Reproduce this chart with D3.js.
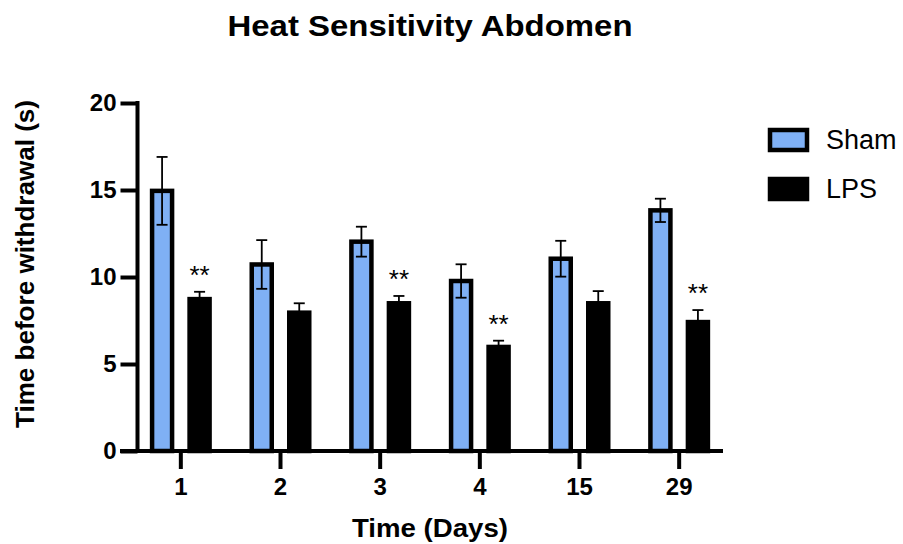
<!DOCTYPE html>
<html>
<head>
<meta charset="utf-8">
<script src="https://cdn.jsdelivr.net/npm/d3@7"></script>
<style>
  html, body { margin: 0; padding: 0; background: #fff; }
  svg { display: block; font-family: "Liberation Sans", Arial, Helvetica, sans-serif; }
</style>
</head>
<body>
<svg id="chart" width="903" height="544"></svg>
<script>
// ---- data ----
const categories = ["1", "2", "3", "4", "15", "29"];
const groups = ["Sham", "LPS"];
const shamMean = [14.95, 10.72, 12.03, 9.77, 11.05, 13.83];
const shamSem  = [1.95, 1.40, 0.86, 0.96, 1.03, 0.67];
const lpsMean  = [8.73, 7.95, 8.49, 5.98, 8.49, 7.41];
const lpsSem   = [0.42, 0.54, 0.42, 0.36, 0.70, 0.69];
const lpsSig   = ["**", "", "**", "**", "", "**"];
const yTicks   = [0, 5, 10, 15, 20];
const title = "Heat Sensitivity Abdomen";
const xTitle = "Time (Days)";
const yTitle = "Time before withdrawal (s)";

const colors = { Sham: "#7fb0f5", LPS: "#000000" };

const svg = d3.select("#chart");

const y = d3.scaleLinear().domain([0, 20]).range([451, 103]);
const x0 = d3.scaleBand().domain(categories).range([131, 729]).paddingInner(0).paddingOuter(0);
const x1 = d3.scaleBand().domain(groups).range([0, x0.bandwidth()]).paddingInner(0.4667).paddingOuter(0.562);

const rows = categories.map((c, i) => ({
  cat: c,
  vals: [
    { g: "Sham", mean: shamMean[i], sem: shamSem[i], sig: "" },
    { g: "LPS", mean: lpsMean[i], sem: lpsSem[i], sig: lpsSig[i] }
  ]
}));

// title
svg.append("text")
  .attr("x", 430).attr("y", 36)
  .attr("text-anchor", "middle")
  .attr("font-size", 30).attr("font-weight", "bold")
  .attr("textLength", 405).attr("lengthAdjust", "spacingAndGlyphs")
  .text(title);

// bars
const gGroups = svg.append("g").selectAll("g").data(rows).join("g")
  .attr("transform", d => `translate(${x0(d.cat)},0)`);

gGroups.selectAll("rect").data(d => d.vals).join("rect")
  .attr("x", d => x1(d.g))
  .attr("y", d => y(d.mean))
  .attr("width", x1.bandwidth())
  .attr("height", d => y(0) - y(d.mean))
  .attr("fill", d => colors[d.g])
  .attr("stroke", "#000")
  .attr("stroke-width", 4.5);

// error bars
const capW = 11;
const eb = gGroups.selectAll("g.eb").data(d => d.vals).join("g").attr("class", "eb")
  .attr("stroke", "#000").attr("stroke-width", 1.8);
eb.append("line")
  .attr("x1", d => x1(d.g) + x1.bandwidth() / 2)
  .attr("x2", d => x1(d.g) + x1.bandwidth() / 2)
  .attr("y1", d => y(d.mean - d.sem))
  .attr("y2", d => y(d.mean + d.sem));
eb.append("line")
  .attr("x1", d => x1(d.g) + x1.bandwidth() / 2 - capW / 2)
  .attr("x2", d => x1(d.g) + x1.bandwidth() / 2 + capW / 2)
  .attr("y1", d => y(d.mean + d.sem))
  .attr("y2", d => y(d.mean + d.sem));
eb.append("line")
  .attr("x1", d => x1(d.g) + x1.bandwidth() / 2 - capW / 2)
  .attr("x2", d => x1(d.g) + x1.bandwidth() / 2 + capW / 2)
  .attr("y1", d => y(d.mean - d.sem))
  .attr("y2", d => y(d.mean - d.sem));

// significance
gGroups.selectAll("text.sig").data(d => d.vals.filter(v => v.sig)).join("text")
  .attr("class", "sig")
  .attr("x", d => x1(d.g) + x1.bandwidth() / 2)
  .attr("y", d => y(d.mean + d.sem) - 8)
  .attr("text-anchor", "middle")
  .attr("font-size", 26)
  .text(d => d.sig);

// y axis
const yAxis = d3.axisLeft(y).tickValues(yTicks).tickSize(17).tickPadding(4);
const gy = svg.append("g").attr("transform", "translate(137.5,0)").call(yAxis);
gy.select(".domain").attr("d", `M0,${y(20) - 2}V${y(0) + 2}`).attr("stroke-width", 4).attr("stroke", "#000");
gy.selectAll(".tick line").attr("stroke-width", 4).attr("stroke", "#000");
gy.selectAll(".tick text").attr("font-size", 24).attr("font-weight", "bold")
  .attr("font-family", "'Liberation Sans', Arial, sans-serif").attr("fill", "#000");

// x axis
const xAxis = d3.axisBottom(x0).tickSize(18).tickPadding(9);
const gx = svg.append("g").attr("transform", `translate(0,${y(0)})`).call(xAxis);
gx.select(".domain").attr("d", "M120,0H723").attr("stroke-width", 4).attr("stroke", "#000");
gx.selectAll(".tick line").attr("stroke-width", 4).attr("stroke", "#000");
gx.selectAll(".tick text").attr("font-size", 24).attr("font-weight", "bold")
  .attr("font-family", "'Liberation Sans', Arial, sans-serif").attr("fill", "#000");

// axis titles
svg.append("text")
  .attr("x", 430).attr("y", 537)
  .attr("text-anchor", "middle")
  .attr("font-size", 26).attr("font-weight", "bold")
  .attr("textLength", 156).attr("lengthAdjust", "spacingAndGlyphs")
  .text(xTitle);

svg.append("text")
  .attr("transform", "translate(34,264) rotate(-90)")
  .attr("text-anchor", "middle")
  .attr("font-size", 25).attr("font-weight", "bold")
  .attr("textLength", 328).attr("lengthAdjust", "spacingAndGlyphs")
  .text(yTitle);

// legend
const legend = svg.append("g").selectAll("g").data(groups).join("g")
  .attr("transform", (d, i) => `translate(768,${128 + i * 49})`);
legend.append("rect")
  .attr("x", 2).attr("y", 2).attr("width", 37).attr("height", 20)
  .attr("fill", d => colors[d]).attr("stroke", "#000").attr("stroke-width", 4.5);
legend.append("text")
  .attr("x", 58).attr("y", 21)
  .attr("font-size", 27)
  .text(d => d);
</script>
</body>
</html>
